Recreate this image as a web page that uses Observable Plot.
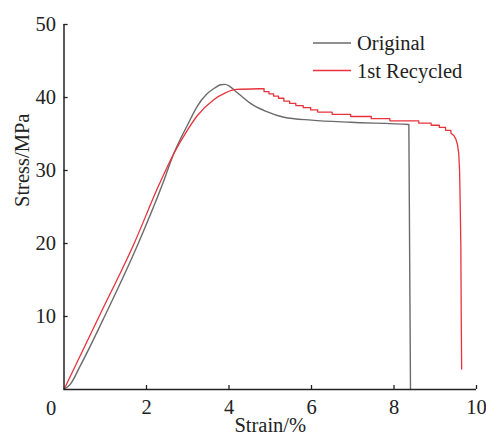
<!DOCTYPE html>
<html>
<head>
<meta charset="utf-8">
<script src="https://cdn.jsdelivr.net/npm/d3@7"></script>
<script src="https://cdn.jsdelivr.net/npm/@observablehq/plot@0.6"></script>
<style>
  html, body { margin: 0; padding: 0; background: #fff; }
  #wrap { position: relative; width: 486px; height: 436px; }
  #legend { position: absolute; left: 0; top: 0; width: 486px; height: 436px; pointer-events: none; }
</style>
</head>
<body>
<div id="wrap"></div>
<script>
// Original (gray) curve
const origStrain = [0, 0.15, 0.4, 1.0, 1.8, 2.38, 2.66, 3.0, 3.23, 3.45, 3.65, 3.8, 3.9, 4.0, 4.15, 4.3, 4.52, 4.9, 5.33, 6.0, 6.95, 8.36, 8.4];
const origStress = [0, 0.7, 3.3, 10.2, 20, 28, 32.3, 36.3, 38.8, 40.4, 41.3, 41.75, 41.8, 41.6, 40.9, 40.2, 39.2, 38.1, 37.3, 36.9, 36.6, 36.3, 0];

// 1st Recycled (red) curve: rise, stepped plateau, final drop
const recRiseStrain = [0, 0.85, 1.7, 2.3, 2.66, 3.0, 3.23, 3.63, 3.9, 4.18, 4.72];
const recRiseStress = [0, 10, 20, 28, 32.3, 35.6, 37.5, 39.7, 40.6, 41.1, 41.2];
const recStepStrain = [4.72, 4.85, 4.97, 5.08, 5.2, 5.33, 5.47, 5.62, 5.8, 5.98, 6.15, 6.5, 6.95, 7.45, 7.9, 8.6, 8.9, 9.1, 9.25, 9.38];
const recStepStress = [41.2, 40.8, 40.5, 40.2, 39.9, 39.5, 39.2, 38.9, 38.6, 38.3, 38.0, 37.7, 37.4, 37.1, 36.8, 36.5, 36.2, 35.9, 35.5, 35.1];
const recTailStrain = [9.45, 9.5, 9.54, 9.57, 9.59, 9.6, 9.62, 9.63, 9.64];
const recTailStress = [34.8, 34.3, 33.5, 32.3, 30, 27, 20, 10, 2.8];

const xTicks = [2, 4, 6, 8, 10];
const yTicks = [10, 20, 30, 40, 50];
const seriesNames = ["Original", "1st Recycled"];
const seriesColors = ["#6b6b6b", "#e8333d"];

const orig = origStrain.map((x, i) => ({x, y: origStress[i]}));
const recRise = recRiseStrain.map((x, i) => ({x, y: recRiseStress[i]}));
const recRest = [];
recStepStrain.forEach((x, i) => {
  if (i > 0) recRest.push({x, y: recStepStress[i - 1]});
  recRest.push({x, y: recStepStress[i]});
});
recTailStrain.forEach((x, i) => recRest.push({x, y: recTailStress[i]}));

const font = "'Liberation Serif', 'Times New Roman', serif";
const ink = "#222";
const fs = 20.5;

const plot = Plot.plot({
  width: 486,
  height: 436,
  marginLeft: 63.5,
  marginRight: 10,
  marginTop: 24,
  marginBottom: 47,
  style: {fontFamily: font, fontSize: fs + "px", color: ink, background: "#fff"},
  x: {domain: [0, 10]},
  y: {domain: [0, 50]},
  marks: [
    Plot.line(orig, {x: "x", y: "y", stroke: seriesColors[0], strokeWidth: 1.4, curve: "monotone-x"}),
    Plot.line(recRise, {x: "x", y: "y", stroke: seriesColors[1], strokeWidth: 1.3, curve: "monotone-x"}),
    Plot.line(recRest, {x: "x", y: "y", stroke: seriesColors[1], strokeWidth: 1.3}),
    Plot.ruleX([0], {y1: 0, y2: 50, stroke: ink, strokeWidth: 1.5}),
    Plot.ruleY([0], {x1: 0, x2: 10, stroke: ink, strokeWidth: 1.5}),
    Plot.ruleY(yTicks, {x1: 0, x2: 0.1, stroke: ink, strokeWidth: 1.3}),
    Plot.ruleX(xTicks, {y1: 0, y2: 0.55, stroke: ink, strokeWidth: 1.3}),
    Plot.axisY({ticks: yTicks, tickSize: 0, tickPadding: 8, label: null, fontSize: fs}),
    Plot.axisX({ticks: xTicks, tickSize: 0, tickPadding: 10, label: null, fontSize: fs}),
    Plot.text([0], {x: 0, y: 0, text: d => String(d), dx: -13, dy: 19, fontSize: fs, fill: ink}),
    Plot.text(["Strain/%"], {frameAnchor: "bottom", dy: 42, fontSize: fs, fill: ink}),
    Plot.text(["Stress/MPa"], {frameAnchor: "left", dx: -42, rotate: -90, fontSize: fs, fill: ink})
  ]
});
document.getElementById("wrap").appendChild(plot);

// Legend
const svgNS = "http://www.w3.org/2000/svg";
const leg = document.createElementNS(svgNS, "svg");
leg.setAttribute("id", "legend");
leg.setAttribute("width", 486);
leg.setAttribute("height", 436);
const legY = [43, 70.5];
seriesNames.forEach((name, i) => {
  const l = document.createElementNS(svgNS, "line");
  l.setAttribute("x1", 313); l.setAttribute("x2", 351);
  l.setAttribute("y1", legY[i]); l.setAttribute("y2", legY[i]);
  l.setAttribute("stroke", seriesColors[i]); l.setAttribute("stroke-width", 1.4);
  leg.appendChild(l);
  const t = document.createElementNS(svgNS, "text");
  t.setAttribute("x", 357); t.setAttribute("y", legY[i]);
  t.setAttribute("dominant-baseline", "central");
  t.setAttribute("font-family", font); t.setAttribute("font-size", fs);
  t.setAttribute("fill", ink);
  t.textContent = name;
  leg.appendChild(t);
});
document.getElementById("wrap").appendChild(leg);
</script>
</body>
</html>
